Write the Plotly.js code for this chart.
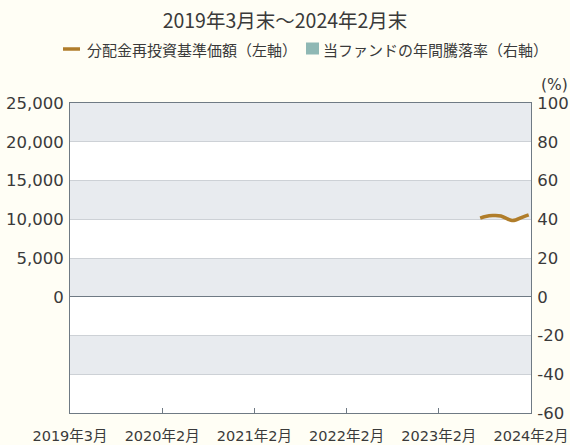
<!DOCTYPE html>
<html>
<head>
<meta charset="utf-8">
<script src="https://cdn.plot.ly/plotly-3.0.1.min.js"></script>
<style>
html,body{margin:0;padding:0;background:#fffef5;}
#chart{width:570px;height:445px;}
</style>
</head>
<body>
<div id="chart"></div>
<script>
// ---- data ----
var titleText = '2019年3月末～2024年2月末';
var navName = '分配金再投資基準価額（左軸）';
var retName = '当ファンドの年間騰落率（右軸）';
var tickLabels = ['2019年3月', '2020年2月', '2021年2月', '2022年2月', '2023年2月', '2024年2月'];
var tickDates = ['2019-03-31', '2020-02-29', '2021-02-28', '2022-02-28', '2023-02-28', '2024-02-29'];
var navDates = ['2023-08-10', '2023-08-31', '2023-09-29', '2023-10-31', '2023-11-30', '2023-12-15', '2023-12-29', '2024-01-31', '2024-02-20'];
var navValues = [10140, 10350, 10470, 10420, 10000, 9830, 9900, 10350, 10570];
var retLabels = [];
var retValues = [];
var leftTicks = [0, 5000, 10000, 15000, 20000, 25000];
var rightTicks = [-60, -40, -20, 0, 20, 40, 60, 80, 100];

// position scale: tick labels are evenly spaced
function monthT(s) {
  var p = s.split('-').map(Number);
  return (p[0] - 2019) * 12 + (p[1] - 4) + p[2] / 30;
}
var tickT = tickDates.map(monthT);
function pos(s) {
  var t = monthT(s);
  for (var i = 0; i < tickT.length - 1; i++) {
    if (t <= tickT[i + 1] || i === tickT.length - 2) {
      return i + (t - tickT[i]) / (tickT[i + 1] - tickT[i]);
    }
  }
}
var tickPos = tickDates.map(pos);

var font = '"Noto Sans CJK JP", "Noto Sans", sans-serif';
var numFont = '"DejaVu Sans", "Noto Sans CJK JP", sans-serif';
var textColor = '#3a3a3a';
var borderColor = '#6f7a84';
var gridColor = '#cdd1d6';
var bandColor = '#e8ebef';
var navColor = '#b07d2a';
var retColor = '#8fb8b4';

// plot box in pixels (for paper-coordinate legend placement)
var W = 570, H = 445, ML = 70, MR = 39, MT = 103, MB = 32;
function px(x) { return (x - ML) / (W - ML - MR); }
function py(y) { return (H - MB - y) / (H - MT - MB); }

var shapes = [];
[[80, 100], [40, 60], [0, 20], [-40, -20]].forEach(function (b) {
  shapes.push({type: 'rect', xref: 'paper', yref: 'y2', x0: 0, x1: 1, y0: b[0], y1: b[1],
    fillcolor: bandColor, line: {width: 0}, layer: 'below'});
});
// legend symbols
shapes.push({type: 'line', xref: 'paper', yref: 'paper', x0: px(63), x1: px(80), y0: py(49), y1: py(49),
  line: {color: navColor, width: 3.5}});
shapes.push({type: 'rect', xref: 'paper', yref: 'paper', x0: px(306), x1: px(319), y0: py(42.5), y1: py(54.5),
  fillcolor: retColor, line: {width: 0}});

var traces = [
  {type: 'scatter', mode: 'lines', name: navName, x: navDates.map(pos), y: navValues, showlegend: false,
   line: {color: navColor, width: 3.5, shape: 'spline', smoothing: 0.8}, yaxis: 'y'},
  {type: 'bar', name: retName, x: retLabels.length ? retLabels.map(pos) : [null], y: retValues.length ? retValues : [null],
   marker: {color: retColor}, yaxis: 'y2', showlegend: false}
];

var layout = {
  width: W, height: H,
  paper_bgcolor: '#fffef5', plot_bgcolor: '#ffffff',
  margin: {l: ML, r: MR, t: MT, b: MB},
  font: {family: font, color: textColor, size: 15},
  title: {text: titleText, xref: 'container', x: 0.5, xanchor: 'center', yref: 'container', y: 1 - 21 / H, yanchor: 'middle',
          font: {size: 19.5, family: font, color: textColor}},
  showlegend: false,
  xaxis: {range: [0, 5], tickvals: tickPos, ticktext: tickLabels, ticks: 'inside', ticklen: 5, tickcolor: borderColor,
          showgrid: false, zeroline: false, showline: true, linecolor: borderColor, mirror: true,
          ticklabelstandoff: 10, tickfont: {size: 14.5, family: numFont}, fixedrange: true},
  yaxis: {range: [-15000, 25000], tickvals: leftTicks, ticktext: leftTicks.map(function (v) { return v.toLocaleString('en-US'); }),
          showgrid: false, zeroline: false, showline: true, linecolor: borderColor, ticks: '', ticklabelstandoff: 2,
          tickfont: {size: 16.5, family: numFont}},
  yaxis2: {range: [-60, 100], tickvals: rightTicks, ticktext: rightTicks.map(function (v) { return String(v); }),
           overlaying: 'y', side: 'right', showgrid: true, gridcolor: gridColor,
           zeroline: true, zerolinecolor: borderColor, zerolinewidth: 1, showline: true, linecolor: borderColor, ticks: '',
           ticklabelstandoff: 2, tickfont: {size: 16.5, family: numFont}},
  shapes: shapes,
  annotations: [
    {text: '(%)', xref: 'paper', yref: 'paper', x: px(539), y: py(85), xanchor: 'left', yanchor: 'middle',
     showarrow: false, font: {size: 15.5, family: numFont, color: textColor}},
    {text: navName, xref: 'paper', yref: 'paper', x: px(85), y: py(49), xanchor: 'left', yanchor: 'middle',
     showarrow: false, font: {size: 15, family: font, color: textColor}},
    {text: retName, xref: 'paper', yref: 'paper', x: px(321), y: py(49), xanchor: 'left', yanchor: 'middle',
     showarrow: false, font: {size: 15, family: font, color: textColor}}
  ]
};

Plotly.newPlot('chart', traces, layout, {displayModeBar: false, staticPlot: true});
</script>
</body>
</html>
